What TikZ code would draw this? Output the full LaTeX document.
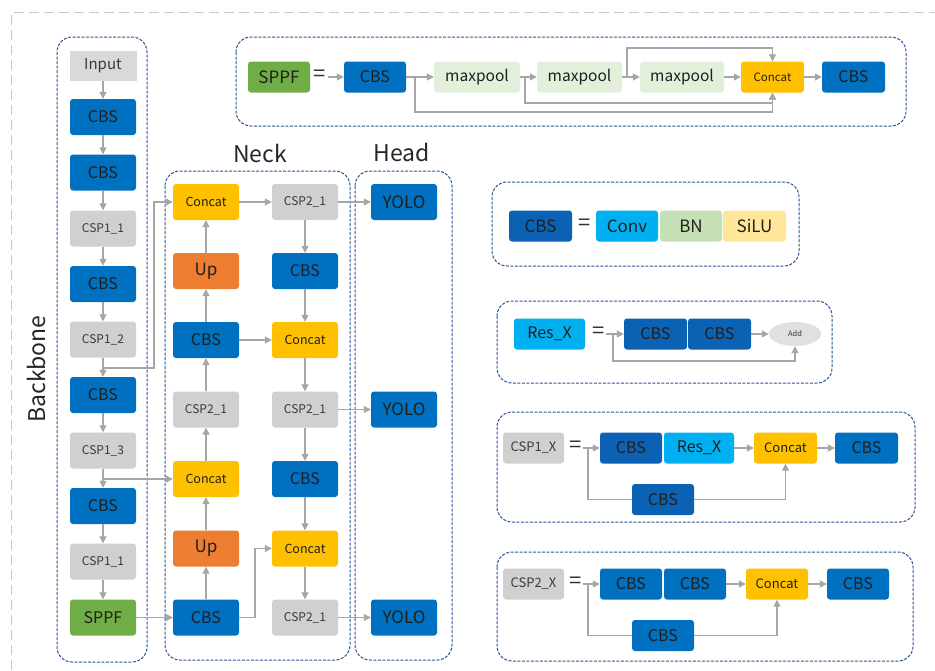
\documentclass[tikz,border=0pt]{standalone}
\usepackage{fontspec}
\setmainfont{Noto Sans CJK SC}
\usetikzlibrary{arrows.meta,shapes.geometric,calc}
\definecolor{cbsblue}{HTML}{0070C0}
\definecolor{cbsdark}{HTML}{0B62B4}
\definecolor{cspgray}{HTML}{D0D0D0}
\definecolor{inpgray}{HTML}{D9D9D9}
\definecolor{catyel}{HTML}{FFC000}
\definecolor{uporange}{HTML}{ED7D31}
\definecolor{sppfgreen}{HTML}{70AD47}
\definecolor{mpgreen}{HTML}{E2EFDA}
\definecolor{convblue}{HTML}{00B0F0}
\definecolor{bngreen}{HTML}{C5E0B4}
\definecolor{siluyel}{HTML}{FFE699}
\definecolor{addgray}{HTML}{E0E0E0}
\definecolor{panelblue}{HTML}{2F5597}
\definecolor{arrgray}{HTML}{A6A6A6}
\definecolor{outergray}{HTML}{C8C8C8}
\definecolor{txtgray}{HTML}{3A3A3A}
\newcommand\fsz[1]{\fontsize{#1}{#1}\selectfont}
\tikzset{
  box/.style={rounded corners=3pt, inner sep=0pt, minimum width=66pt, minimum height=36pt, text=black!88, font=\fsz{16}},
  cbs/.style={box, fill=cbsblue},
  cspb/.style={box, fill=cspgray, text=txtgray, font=\fsz{12}},
  catb/.style={box, fill=catyel, font=\fsz{12.5}},
  upb/.style={box, fill=uporange, font=\fsz{17}},
  yolo/.style={box, fill=cbsblue, font=\fsz{17}},
  pbox/.style={rounded corners=3pt, inner sep=0pt, minimum height=31pt, text=black!88, font=\fsz{16}},
  eqs/.style={inner sep=0pt, font=\fsz{22}, text=black!80},
  arr/.style={draw=arrgray, line width=1.2pt, -{Triangle[length=7pt,width=7pt]}},
  ln/.style={draw=arrgray, line width=1.2pt},
  panel/.style={draw=panelblue, dash pattern=on 3pt off 1.5pt, line width=1pt, rounded corners=15pt},
  outer/.style={draw=outergray, dash pattern=on 10pt off 5pt, line width=1pt},
  title/.style={font=\fsz{23}, text=black!85}
}
\begin{document}
\begin{tikzpicture}[x=1pt,y=-1pt]
\useasboundingbox (0,0) rectangle (935,670);
\fill[white] (0,0) rectangle (935,670);
\draw[outer] (11,670) -- (11,12.5) -- (935,12.5);

% ---------- group frames ----------
\draw[panel] (57,37) rectangle (147,662);
\draw[panel] (165,171) rectangle (350,660);
\draw[panel] (355,171) rectangle (452,660);
\node[title, rotate=90] (tb) at (36,369) {Backbone};
\node[title] (tn) at (260,153) {Neck};
\node[title] (th) at (402,152) {Head};

% ---------- backbone ----------
\node[box, fill=inpgray, rounded corners=0pt, minimum height=30pt, minimum width=67pt, font=\fsz{15}, text=txtgray] (b0) at (103,66) {Input};
\node[cbs] (b1) at (103,117) {CBS};
\node[cbs] (b2) at (103,172.5) {CBS};
\node[cspb] (b3) at (103,228.5) {CSP1\_1};
\node[cbs] (b4) at (103,284) {CBS};
\node[cspb] (b5) at (103,339.5) {CSP1\_2};
\node[cbs] (b6) at (103,395) {CBS};
\node[cspb] (b7) at (103,450.5) {CSP1\_3};
\node[cbs] (b8) at (103,506) {CBS};
\node[cspb] (b9) at (103,561.5) {CSP1\_1};
\node[box, fill=sppfgreen] (b10) at (103,617.5) {SPPF};
\foreach \a/\b in {b0/b1,b1/b2,b2/b3,b3/b4,b4/b5,b5/b6,b6/b7,b7/b8,b8/b9,b9/b10}
  \draw[arr] (\a) -- (\b);

% ---------- neck ----------
\node[catb] (n1) at (206,202) {Concat};
\node[upb] (n2) at (206,271) {Up};
\node[cbs] (n3) at (206,340) {CBS};
\node[cspb] (n4) at (206,409.5) {CSP2\_1};
\node[catb] (n5) at (206,479) {Concat};
\node[upb] (n6) at (206,548.5) {Up};
\node[cbs] (n7) at (206,617.5) {CBS};
\node[cspb] (m1) at (305,202) {CSP2\_1};
\node[cbs] (m2) at (305,271) {CBS};
\node[catb] (m3) at (305,340) {Concat};
\node[cspb] (m4) at (305,409.5) {CSP2\_1};
\node[cbs] (m5) at (305,479) {CBS};
\node[catb] (m6) at (305,548.5) {Concat};
\node[cspb] (m7) at (305,617.5) {CSP2\_1};
\node[yolo] (y1) at (404,202) {YOLO};
\node[yolo] (y2) at (404,409.5) {YOLO};
\node[yolo] (y3) at (404,617.5) {YOLO};

\foreach \a/\b in {n7/n6,n6/n5,n5/n4,n4/n3,n3/n2,n2/n1,m1/m2,m2/m3,m3/m4,m4/m5,m5/m6,m6/m7}
  \draw[arr] (\a) -- (\b);
\draw[arr] (n1) -- (m1);
\draw[arr] (n3) -- (m3);
\draw[arr] (m1) -- (y1);
\draw[arr] (m4) -- (y2);
\draw[arr] (m7) -- (y3);
\draw[arr] (b10) -- (n7);
\coordinate (j1) at (103,368);
\coordinate (k1) at (154,368);
\draw[arr] (j1) -- (k1) |- (n1.west);
\coordinate (j2) at (103,479);
\draw[arr] (j2) -- (n5.west);
\coordinate (k2) at (255,617.5);
\draw[arr] (n7.east) -- (k2) |- (m6.west);

% ---------- SPPF panel ----------
\draw[panel] (236,37) rectangle (906,126);
\node[pbox, fill=sppfgreen, minimum width=62pt, font=\fsz{17}] (sp) at (279,77) {SPPF};
\node[eqs] (seq) at (319.5,76) {=};
\node[pbox, fill=cbsblue, minimum width=62pt] (s0) at (375,77) {CBS};
\node[pbox, fill=mpgreen, minimum width=86pt, font=\fsz{15.5}] (mp1) at (477,77) {maxpool};
\node[pbox, fill=mpgreen, minimum width=85pt, font=\fsz{15.5}] (mp2) at (579.5,77) {maxpool};
\node[pbox, fill=mpgreen, minimum width=84pt, font=\fsz{15.5}] (mp3) at (682,77) {maxpool};
\node[pbox, fill=catyel, minimum width=63pt, font=\fsz{11.5}] (scat) at (772.5,77) {Concat};
\node[pbox, fill=cbsblue, minimum width=63pt] (s5) at (853.5,77) {CBS};
\draw[arr] (seq.east) ++(2,1) coordinate (seqa) (seqa) -- (s0.west);
\draw[arr] (s0) -- (mp1);
\draw[arr] (mp1) -- (mp2);
\draw[arr] (mp2) -- (mp3);
\draw[arr] (mp3) -- (scat);
\draw[arr] (scat) -- (s5);
\coordinate (sb1) at (415,77);
\coordinate (sc1) at (415,112);
\draw[arr] (sb1) -- (sc1) -| (scat.south);
\coordinate (sb2) at (525,77);
\coordinate (sc2) at (525,103);
\draw[arr] (sb2) -- (sc2) -| (scat.south);
\coordinate (sb3) at (627,77);
\coordinate (sc3) at (627,48);
\draw[arr] (sb3) -- (sc3) -| (scat.north);

% ---------- CBS panel ----------
\draw[panel] (492,182) rectangle (799,266);
\node[pbox, fill=cbsdark, minimum width=63pt, font=\fsz{17}] (cd) at (540.5,226) {CBS};
\node[eqs] (ceq) at (585,225) {=};
\node[pbox, fill=convblue, minimum width=62pt, font=\fsz{17}] (cv) at (627,226) {Conv};
\node[pbox, fill=bngreen, minimum width=62pt, font=\fsz{17}] (bn) at (691,226) {BN};
\node[pbox, fill=siluyel, minimum width=63pt, font=\fsz{17}] (sl) at (754.5,226) {SiLU};

% ---------- Res_X panel ----------
\draw[panel] (497,301) rectangle (832,383);
\node[pbox, fill=convblue, minimum width=71pt] (rx) at (549.5,334) {Res\_X};
\node[eqs] (req) at (599,333) {=};
\node[pbox, fill=cbsdark, minimum width=63pt] (r1) at (655.5,334) {CBS};
\node[pbox, fill=cbsdark, minimum width=63pt] (r2) at (719.5,334) {CBS};
\node[ellipse, fill=addgray, minimum width=52pt, minimum height=24pt, inner sep=0pt, font=\fsz{7.5}, text=txtgray] (add) at (795,334) {Add};
\coordinate (ra) at (606,334);
\draw[arr] (ra) -- (r1.west);
\draw[arr] (r2) -- (add);
\coordinate (rb) at (613,334);
\coordinate (rc) at (613,361);
\draw[arr] (rb) -- (rc) -| (add.south);

% ---------- CSP1_X panel ----------
\draw[panel] (497,412) rectangle (915,522);
\node[pbox, fill=cspgray, minimum width=61pt, font=\fsz{13}, text=txtgray] (c1) at (533.5,448) {CSP1\_X};
\node[eqs] (c1eq) at (576,447) {=};
\node[pbox, fill=cbsdark, minimum width=62pt] (cA) at (631,448) {CBS};
\node[pbox, fill=convblue, minimum width=70pt] (cR) at (699,448) {Res\_X};
\node[pbox, fill=catyel, minimum width=63pt, font=\fsz{13}] (ccat) at (785.5,448) {Concat};
\node[pbox, fill=cbsblue, minimum width=63pt] (cE) at (866.5,448) {CBS};
\node[pbox, fill=cbsdark, minimum width=62pt] (cB) at (663,499.5) {CBS};
\coordinate (ca) at (583,448);
\draw[arr] (ca) -- (cA.west);
\draw[arr] (cR) -- (ccat);
\draw[arr] (ccat) -- (cE);
\coordinate (cb) at (588,448);
\draw[ln] (cb) |- (cB.west);
\draw[arr] (cB.east) -| (ccat.south);

% ---------- CSP2_X panel ----------
\draw[panel] (497,552) rectangle (913,661);
\node[pbox, fill=cspgray, minimum width=61pt, font=\fsz{13}, text=txtgray] (d1) at (533.5,584) {CSP2\_X};
\node[eqs] (d1eq) at (576,583) {=};
\node[pbox, fill=cbsblue, minimum width=62pt] (dA) at (631,584) {CBS};
\node[pbox, fill=cbsblue, minimum width=62pt] (dB) at (695,584) {CBS};
\node[pbox, fill=catyel, minimum width=62pt, font=\fsz{13}] (dcat) at (777,584) {Concat};
\node[pbox, fill=cbsblue, minimum width=62pt] (dE) at (858,584) {CBS};
\node[pbox, fill=cbsblue, minimum width=62pt] (dBot) at (663,635.5) {CBS};
\coordinate (da) at (583,584);
\draw[arr] (da) -- (dA.west);
\draw[arr] (dB) -- (dcat);
\draw[arr] (dcat) -- (dE);
\coordinate (db) at (588,584);
\draw[ln] (db) |- (dBot.west);
\draw[arr] (dBot.east) -| (dcat.south);
\end{tikzpicture}
\end{document}
